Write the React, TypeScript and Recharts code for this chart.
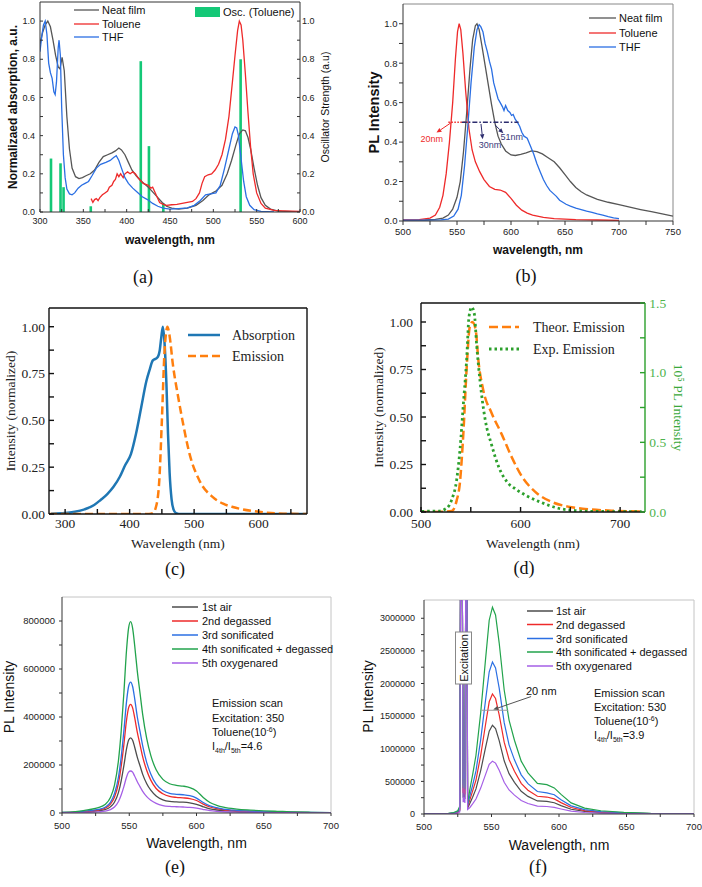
import React from "react";
import { ComposedChart, LineChart, Line, Bar, XAxis, YAxis, ReferenceLine } from "recharts";

type Pt = [number, number];
const rows = (p: Pt[]) => p.map(([x, y]) => ({ x, y }));

const SANS = '"Liberation Sans", Arial, sans-serif';
const SERIF = '"Liberation Serif", "Times New Roman", serif';

const GRAY = "#565656";
const RED = "#ee2a2a";
const BLUE = "#2b6fe3";
const GREEN = "#22a34c";
const PURPLE = "#a55fe6";
const OSC = "#14c877";
const MPL_BLUE = "#1f77b4";
const MPL_ORANGE = "#ff7f0e";
const MPL_GREEN = "#2ca02c";

// ---------- (a) absorption ----------
const neatFilmA: Pt[] = [
  [300, 0.88], [303, 0.94], [306, 0.98], [309, 1.0], [312, 0.97], [315, 0.9], [318, 0.82], [321, 0.76], [323, 0.75],
  [325.5, 0.81], [328, 0.74], [331, 0.5], [334, 0.33], [337, 0.23], [341, 0.185], [345, 0.175], [349, 0.18], [353, 0.19],
  [358, 0.2], [363, 0.22], [368, 0.26], [373, 0.29], [378, 0.3], [383, 0.31], [387, 0.32], [391, 0.335], [394, 0.325],
  [398, 0.3], [402, 0.26], [406, 0.22], [411, 0.19], [416, 0.165], [421, 0.145], [426, 0.125], [431, 0.1], [436, 0.075],
  [441, 0.05], [446, 0.03], [452, 0.02], [460, 0.015], [470, 0.02], [480, 0.035], [488, 0.06], [495, 0.09], [503, 0.11],
  [510, 0.14], [516, 0.2], [521, 0.27], [526, 0.35], [530, 0.41], [534, 0.43], [537, 0.425], [540, 0.39], [543, 0.33],
  [547, 0.23], [551, 0.14], [555, 0.075], [560, 0.035], [566, 0.015], [575, 0.005], [600, 0.0],
];
const tolueneA: Pt[] = [
  [359, 0.07], [361, 0.05], [363, 0.065], [365, 0.07], [367, 0.06], [369, 0.075], [372, 0.09], [375, 0.1], [378, 0.11],
  [380, 0.13], [383, 0.14], [385, 0.16], [387, 0.17], [389, 0.2], [391, 0.185], [393, 0.2], [396, 0.18], [398, 0.2],
  [401, 0.21], [404, 0.2], [407, 0.21], [410, 0.2], [413, 0.18], [416, 0.165], [419, 0.15], [422, 0.145], [425, 0.14],
  [428, 0.125], [430, 0.13], [432, 0.11], [435, 0.08], [438, 0.05], [442, 0.04], [446, 0.035], [452, 0.038], [458, 0.04],
  [464, 0.045], [470, 0.05], [476, 0.055], [480, 0.07], [484, 0.1], [487, 0.15], [490, 0.185], [494, 0.195], [498, 0.2],
  [502, 0.22], [506, 0.25], [510, 0.3], [514, 0.38], [518, 0.5], [522, 0.68], [525, 0.82], [528, 0.95], [530, 1.0],
  [532, 0.98], [534, 0.9], [537, 0.72], [540, 0.52], [543, 0.34], [546, 0.2], [550, 0.1], [555, 0.045], [560, 0.02],
  [570, 0.008], [580, 0.006], [600, 0.003],
];
const thfA: Pt[] = [
  [300, 0.84], [302, 0.92], [304, 0.98], [306, 1.0], [308, 0.93], [310, 0.78], [312, 0.73], [314, 0.7], [316, 0.63],
  [317.5, 0.615], [319, 0.68], [321, 0.86], [322, 0.9], [323.5, 0.82], [325, 0.55], [327, 0.3], [329, 0.18], [331, 0.12],
  [334, 0.095], [337, 0.09], [340, 0.1], [344, 0.125], [348, 0.14], [352, 0.15], [356, 0.16], [360, 0.19], [365, 0.23],
  [370, 0.25], [376, 0.26], [381, 0.27], [385, 0.285], [388, 0.295], [391, 0.27], [394, 0.23], [398, 0.18], [402, 0.15],
  [407, 0.125], [412, 0.105], [418, 0.08], [424, 0.065], [430, 0.045], [436, 0.03], [442, 0.02], [450, 0.015],
  [460, 0.018], [470, 0.022], [478, 0.035], [485, 0.06], [491, 0.09], [497, 0.095], [503, 0.1], [508, 0.14], [513, 0.23],
  [518, 0.33], [522, 0.41], [525, 0.445], [527, 0.44], [529, 0.4], [532, 0.28], [535, 0.16], [538, 0.08], [542, 0.035],
  [547, 0.012], [555, 0.003], [570, 0.0],
];
const oscWavelengths = [312.7, 323.7, 327.2, 358.6, 416.3, 425.7, 442.3, 531.5];
const oscStrengths = [0.28, 0.255, 0.13, 0.03, 0.79, 0.345, 0.045, 0.8];
const oscA = oscWavelengths.map((x, i) => ({ x, f: oscStrengths[i] }));

// ---------- (b) PL ----------
const neatFilmB: Pt[] = [
  [500, 0.004], [520, 0.005], [530, 0.008], [537, 0.015], [542, 0.03], [546, 0.06], [550, 0.12], [553, 0.2], [556, 0.35],
  [559, 0.55], [562, 0.77], [564.5, 0.92], [567, 0.99], [568.5, 1.0], [570.5, 0.97], [573, 0.89], [576, 0.79], [579, 0.69],
  [582, 0.59], [585, 0.5], [588, 0.43], [591, 0.39], [595, 0.355], [600, 0.335], [604, 0.332], [609, 0.338], [614, 0.345],
  [619, 0.355], [624, 0.352], [629, 0.34], [634, 0.322], [640, 0.3], [645, 0.27], [650, 0.235], [655, 0.2], [660, 0.17],
  [665, 0.148], [670, 0.132], [680, 0.11], [690, 0.095], [700, 0.083], [710, 0.07], [720, 0.058], [730, 0.047],
  [740, 0.036], [750, 0.025],
];
const tolueneB: Pt[] = [
  [500, 0.005], [515, 0.007], [525, 0.015], [530, 0.03], [534, 0.07], [537, 0.13], [540, 0.24], [543, 0.4], [546, 0.6],
  [548.5, 0.82], [550.5, 0.96], [552, 1.0], [553.5, 0.97], [555.5, 0.85], [558, 0.66], [561, 0.47], [564, 0.36],
  [567, 0.3], [571, 0.25], [575, 0.21], [580, 0.175], [585, 0.16], [590, 0.157], [595, 0.145], [600, 0.115], [605, 0.08],
  [610, 0.055], [615, 0.04], [620, 0.03], [630, 0.018], [640, 0.012], [660, 0.007], [680, 0.005], [700, 0.003],
];
const thfB: Pt[] = [
  [500, 0.004], [520, 0.004], [535, 0.006], [542, 0.01], [547, 0.025], [551, 0.06], [554, 0.13], [557, 0.28], [560, 0.48],
  [563, 0.7], [566, 0.88], [568.5, 0.97], [570.5, 0.995], [572, 0.985], [574, 0.96], [576, 0.9], [578, 0.86], [580, 0.81],
  [582, 0.77], [584, 0.7], [586, 0.66], [588, 0.62], [590, 0.6], [592, 0.58], [593.5, 0.56], [595, 0.585], [597, 0.56],
  [599, 0.55], [600.5, 0.535], [602, 0.54], [604, 0.515], [606, 0.5], [608, 0.48], [610, 0.45], [612, 0.43], [615, 0.42],
  [618, 0.38], [621, 0.34], [624, 0.29], [627, 0.25], [630, 0.21], [633, 0.18], [636, 0.155], [639, 0.14], [642, 0.125],
  [645, 0.105], [648, 0.095], [651, 0.085], [655, 0.075], [660, 0.065], [665, 0.058], [670, 0.05], [675, 0.044],
  [680, 0.036], [685, 0.03], [690, 0.022], [695, 0.016], [700, 0.012],
];

// ---------- (c) ----------
const absorptionC: Pt[] = [
  [278, 0.002], [300, 0.005], [315, 0.012], [330, 0.025], [345, 0.048], [355, 0.075], [365, 0.105], [375, 0.145],
  [385, 0.2], [393, 0.26], [402, 0.32], [410, 0.43], [418, 0.57], [426, 0.71], [431, 0.77], [436, 0.82], [441, 0.83],
  [444, 0.84], [446.5, 0.87], [449, 0.94], [451.5, 1.0], [454, 0.92], [457, 0.7], [459.5, 0.43], [462, 0.22], [465, 0.08],
  [468, 0.025], [472, 0.005], [480, 0.0], [675, 0.0],
];
const emissionC: Pt[] = [
  [275, 0.0], [430, 0.0], [436, 0.005], [441, 0.04], [446, 0.18], [450, 0.5], [454, 0.86], [457, 0.98], [458.5, 1.0],
  [462, 0.95], [467, 0.8], [475, 0.63], [483, 0.48], [493, 0.32], [508, 0.18], [529, 0.09], [545, 0.055], [560, 0.037],
  [575, 0.025], [591, 0.016], [610, 0.008], [638, 0.002], [675, 0.0],
];

// ---------- (d) ----------
const theorD: Pt[] = [
  [500, 0.0], [520, 0.001], [530.8, 0.005], [535.8, 0.06], [539, 0.15], [542.5, 0.41], [545.9, 0.76], [549, 0.975],
  [551.5, 1.0], [554.9, 0.96], [557.6, 0.8], [562.6, 0.64], [571, 0.52], [581, 0.41], [591, 0.29], [601, 0.19],
  [614.5, 0.107], [631, 0.054], [648, 0.028], [664.7, 0.016], [691.5, 0.007], [722, 0.003],
];
const expD: Pt[] = [
  [500.7, 0.005], [517.4, 0.007], [525.8, 0.027], [530.8, 0.087], [535.8, 0.23], [539.2, 0.45], [542.5, 0.77],
  [545.9, 1.1], [548.2, 1.4], [550.9, 1.47], [553.6, 1.42], [555.9, 1.2], [559.3, 0.94], [564.3, 0.67], [571, 0.48],
  [577.7, 0.33], [586, 0.22], [596, 0.16], [607.8, 0.11], [621, 0.068], [638, 0.027], [654.7, 0.01], [671.4, 0.005],
  [721.6, 0.002],
];

// ---------- (e) excitation 350 ----------
const airE: Pt[] = [
  [500, 1200], [510, 2400], [520, 5500], [527, 8600], [532, 13800], [536, 25500], [539, 45000], [542, 86000],
  [544, 134000], [546, 197000], [548, 268000], [549.5, 303000], [551, 313000], [552.5, 303000], [554, 275000],
  [556, 232000], [558, 197000], [560, 161000], [563, 122000], [566, 95000], [570, 71000], [575, 55000], [580, 48000],
  [585, 46000], [590, 45000], [595, 42000], [600, 36000], [605, 26000], [610, 17500], [615, 12500], [620, 9500],
  [630, 6300], [640, 4700], [650, 3500], [660, 2700], [670, 2000], [685, 1200], [700, 600],
];
const degassedE: Pt[] = [
  [500, 1700], [510, 3400], [520, 8000], [527, 12500], [532, 20000], [536, 37000], [539, 66000], [542, 125000],
  [544, 194000], [546, 285000], [548, 388000], [549.5, 438000], [551, 453000], [552.5, 438000], [554, 398000],
  [556, 336000], [558, 285000], [560, 234000], [563, 177000], [566, 137000], [570, 102000], [575, 80000], [580, 69000],
  [585, 65000], [590, 63000], [595, 60000], [600, 52000], [605, 37000], [610, 25000], [615, 18000], [620, 13500],
  [630, 9000], [640, 6800], [650, 5100], [660, 4000], [670, 2900], [685, 1700], [700, 900],
];
const sonicE: Pt[] = [
  [500, 2000], [510, 4000], [520, 9500], [527, 15000], [532, 24000], [536, 44000], [539, 80000], [542, 150000],
  [544, 232000], [546, 342000], [548, 465000], [549.5, 527000], [551, 545000], [552.5, 527000], [554, 478000],
  [556, 400000], [558, 340000], [560, 280000], [563, 210000], [566, 163000], [570, 120000], [575, 94000], [580, 82000],
  [585, 78000], [590, 76000], [595, 72000], [600, 62000], [605, 44000], [610, 30000], [615, 22000], [620, 16500],
  [630, 11000], [640, 8000], [650, 6000], [660, 4500], [670, 3500], [685, 2000], [700, 1000],
];
const sonicDegE: Pt[] = [
  [500, 3000], [510, 6000], [520, 14000], [527, 22000], [532, 35000], [536, 65000], [539, 115000], [542, 220000],
  [544, 340000], [546, 500000], [548, 680000], [549.5, 770000], [551, 797000], [552.5, 770000], [554, 700000],
  [556, 590000], [558, 500000], [560, 410000], [563, 310000], [566, 240000], [570, 180000], [575, 140000],
  [580, 122000], [585, 115000], [590, 112000], [595, 106000], [600, 92000], [605, 65000], [610, 44000], [615, 32000],
  [620, 24000], [630, 16000], [640, 12000], [650, 9000], [660, 7000], [670, 5000], [685, 3000], [700, 1500],
];
const oxyE: Pt[] = [
  [500, 700], [510, 1300], [520, 3000], [527, 4800], [532, 7700], [536, 14300], [539, 25000], [542, 48000],
  [544, 75000], [546, 110000], [548, 150000], [549.5, 170000], [551, 175000], [552.5, 170000], [554, 154000],
  [556, 130000], [558, 110000], [560, 90000], [563, 68000], [566, 53000], [570, 40000], [575, 31000], [580, 27500],
  [585, 26000], [590, 25000], [595, 23500], [600, 20000], [605, 14500], [610, 9700], [615, 7000], [620, 5300],
  [630, 3500], [640, 2600], [650, 2000], [660, 1500], [670, 1100], [685, 700], [700, 350],
];

// ---------- (f) excitation 530 ----------
const airF: Pt[] = [
  [500, 0], [510, 1300], [518, 4300], [522, 9400], [525, 21000], [526.5, 52000], [527.2, 4500000], [528.2, 4500000],
  [529, 250000], [529.6, 350000], [530.3, 230000], [531.1, 4500000], [531.7, 4500000], [532.3, 90000], [534, 165000],
  [536, 258000], [538.5, 385000], [542, 665000], [545.5, 1010000], [548.3, 1270000], [550.7, 1360000], [553, 1310000],
  [555.7, 1125000], [559.4, 815000], [563, 618000], [567, 485000], [572, 348000], [577, 270000], [584, 200000],
  [591, 193000], [596.5, 172000], [601.5, 129000], [609, 73000], [619, 39000], [631, 21500], [648, 11200],
  [668, 4300], [700, 900],
];
const degassedF: Pt[] = [
  [500, 0], [510, 1700], [518, 5800], [522, 12800], [525, 29000], [526.5, 70000], [527.2, 4500000], [528.2, 4500000],
  [529, 320000], [529.6, 450000], [530.3, 300000], [531.1, 4500000], [531.7, 4500000], [532.3, 110000], [534, 220000],
  [536, 350000], [538.5, 520000], [542, 900000], [545.5, 1360000], [548.3, 1720000], [550.7, 1840000], [553, 1770000],
  [555.7, 1520000], [559.4, 1100000], [563, 835000], [567, 655000], [572, 470000], [577, 365000], [584, 272000],
  [591, 260000], [596.5, 232000], [601.5, 174000], [609, 99000], [619, 52000], [631, 29000], [648, 15000],
  [668, 5800], [700, 1200],
];
const sonicF: Pt[] = [
  [500, 0], [510, 2200], [518, 7400], [522, 16000], [525, 37000], [526.5, 90000], [527.2, 4500000], [528.2, 4500000],
  [529, 450000], [529.6, 640000], [530.3, 420000], [531.1, 4500000], [531.7, 4500000], [532.3, 130000], [534, 280000],
  [536, 440000], [538.5, 660000], [542, 1140000], [545.5, 1730000], [548.3, 2180000], [550.7, 2330000], [553, 2240000],
  [555.7, 1930000], [559.4, 1400000], [563, 1060000], [567, 830000], [572, 600000], [577, 465000], [584, 345000],
  [591, 325000], [596.5, 295000], [601.5, 220000], [609, 125000], [619, 66000], [631, 37000], [648, 19000],
  [668, 7400], [700, 1500],
];
const sonicDegF: Pt[] = [
  [500, 0], [510, 3000], [518, 10000], [522, 22000], [525, 50000], [526.5, 120000], [527.2, 4500000], [528.2, 4500000],
  [529, 400000], [529.6, 540000], [530.3, 380000], [531.1, 4500000], [531.7, 4500000], [532.3, 160000], [534, 380000],
  [536, 600000], [538.5, 900000], [542, 1550000], [545.5, 2350000], [548.3, 2970000], [550.7, 3170000], [553, 3050000],
  [555.7, 2620000], [559.4, 1900000], [563, 1440000], [567, 1130000], [572, 810000], [577, 630000], [584, 470000],
  [591, 450000], [596.5, 400000], [601.5, 300000], [609, 170000], [619, 90000], [631, 50000], [648, 26000],
  [668, 10000], [700, 2000],
];
const oxyF: Pt[] = [
  [500, 0], [510, 800], [518, 2600], [522, 5600], [525, 12800], [526.5, 31000], [527.2, 4500000], [528.2, 4500000],
  [529, 180000], [529.6, 250000], [530.3, 170000], [531.1, 4500000], [531.7, 4500000], [532.3, 70000], [534, 100000],
  [536, 154000], [538.5, 230000], [542, 397000], [545.5, 600000], [548.3, 760000], [550.7, 810000], [553, 780000],
  [555.7, 670000], [559.4, 486000], [563, 368000], [567, 289000], [572, 207000], [577, 161000], [584, 120000],
  [591, 115000], [596.5, 102000], [601.5, 77000], [609, 43000], [619, 23000], [631, 12800], [648, 6700], [668, 2600],
  [700, 500],
];

// ---------- ticks ----------
const xTicksA = [300, 325, 350, 375, 400, 425, 450, 475, 500, 525, 550, 575, 600];
const yTicksA = [0, 0.1, 0.2, 0.3, 0.4, 0.5, 0.6, 0.7, 0.8, 0.9, 1.0];
const xTicksB = [500, 525, 550, 575, 600, 625, 650, 675, 700, 725, 750];
const xTicksC = [300, 350, 400, 450, 500, 550, 600, 650];
const yTicksC = [0, 0.125, 0.25, 0.375, 0.5, 0.625, 0.75, 0.875, 1.0];
const xTicksD = [500, 550, 600, 650, 700];
const yTicksDRight = [0, 0.25, 0.5, 0.75, 1.0, 1.25, 1.5];
const xTicksEF = [500, 525, 550, 575, 600, 625, 650, 675, 700];
const yTicksE = [0, 100000, 200000, 300000, 400000, 500000, 600000, 700000, 800000];
const yTicksF = [0, 250000, 500000, 750000, 1000000, 1250000, 1500000, 1750000, 2000000, 2250000, 2500000, 2750000, 3000000];

const every = (step: number, digits = 0) => (v: number) => {
  const r = v / step;
  return Math.abs(r - Math.round(r)) < 1e-6 ? v.toFixed(digits) : "";
};

const ArrowShape = (props: any) => {
  const { x1, y1, x2, y2, stroke } = props;
  const a = Math.atan2(y2 - y1, x2 - x1);
  const L = 5;
  const W = 2.2;
  const bx = x2 - L * Math.cos(a);
  const by = y2 - L * Math.sin(a);
  const pts = `${x2},${y2} ${bx + W * Math.sin(a)},${by - W * Math.cos(a)} ${bx - W * Math.sin(a)},${by + W * Math.cos(a)}`;
  return (
    <g>
      <line x1={x1} y1={y1} x2={bx} y2={by} stroke={stroke} strokeWidth={1} />
      <polygon points={pts} fill={stroke} />
    </g>
  );
};

// thin stick for the oscillator strengths, centred on the slot Recharts gives the bar
const OscStick = (p: any) => {
  const { x, y, width, height } = p;
  if (![x, y, width, height].every((v) => typeof v === "number" && isFinite(v))) return <g />;
  return <rect x={x + width / 2 - 1.3} y={y} width={2.6} height={height} fill={OSC} />;
};

const curve = (name: string, data: Pt[], color: string, extra: any = {}) => (
  <Line
    key={name}
    name={name}
    data={rows(data)}
    dataKey="y"
    type="linear"
    stroke={color}
    strokeWidth={1.3}
    dot={false}
    isAnimationActive={false}
    {...extra}
  />
);

function PanelA() {
  return (
    <div style={{ position: "absolute", left: 0, top: 0, fontFamily: SANS }}>
      <ComposedChart width={340} height={250} data={oscA} margin={{ top: 2, right: 0, bottom: 0, left: 0 }}>
        <XAxis
          dataKey="x" type="number" domain={[300, 600]} allowDataOverflow ticks={xTicksA} interval={0}
          tickFormatter={every(50)} height={38} tickSize={-3} tickMargin={9} stroke="#333"
          tick={{ fontSize: 9, fill: "#222" }}
          label={{ value: "wavelength, nm", position: "insideBottom", offset: 6, style: { fontSize: 12, fontWeight: 700, fill: "#111" } }}
        />
        <YAxis
          yAxisId="l" type="number" domain={[0, 1.1]} allowDataOverflow ticks={yTicksA} interval={0}
          tickFormatter={every(0.2, 1)} width={40} tickSize={-3} tickMargin={8} stroke="#333"
          tick={{ fontSize: 9, fill: "#222" }}
          label={{ value: "Normalizaed absorption, a.u.", angle: -90, position: "insideLeft", dx: 8, style: { textAnchor: "middle", fontSize: 12, fontWeight: 700, fill: "#111" } }}
        />
        <YAxis
          yAxisId="r" orientation="right" type="number" domain={[0, 1.1]} allowDataOverflow ticks={yTicksA} interval={0}
          tickFormatter={every(0.2, 1)} width={40} tickSize={-3} tickMargin={5} stroke="#333"
          tick={{ fontSize: 9, fill: "#222" }}
          label={{ value: "Oscillator Strength (a.u)", angle: -90, position: "insideRight", dx: -10, style: { textAnchor: "middle", fontSize: 10.5, fill: "#111" } }}
        />
        <ReferenceLine yAxisId="l" y={1.1} stroke="#333" />
        <Bar yAxisId="r" dataKey="f" name="Osc. (Toluene)" fill={OSC} barSize={3} shape={OscStick} isAnimationActive={false} />
        {curve("Neat film", neatFilmA, GRAY, { yAxisId: "l" })}
        {curve("Toluene", tolueneA, RED, { yAxisId: "l" })}
        {curve("THF", thfA, BLUE, { yAxisId: "l" })}
      </ComposedChart>
    </div>
  );
}

function PanelB() {
  return (
    <div style={{ position: "absolute", left: 351, top: 0, fontFamily: SANS }}>
      <LineChart width={351} height={262} margin={{ top: 4, right: 29, bottom: 0, left: 0 }}>
        <XAxis
          dataKey="x" type="number" domain={[500, 750]} allowDataOverflow ticks={xTicksB} interval={0}
          tickFormatter={every(50)} height={41} tickSize={4} tickMargin={3.7} stroke="#333"
          tick={{ fontSize: 9.5, fill: "#222" }}
          label={{ value: "wavelength, nm", position: "insideBottom", offset: 8, style: { fontSize: 12, fontWeight: 700, fill: "#111" } }}
        />
        <YAxis
          type="number" domain={[0, 1.1]} allowDataOverflow ticks={yTicksA} interval={0}
          tickFormatter={every(0.2, 1)} width={52} tickSize={4} tickMargin={1.5} stroke="#333"
          tick={{ fontSize: 9.5, fill: "#222" }}
          label={{ value: "PL Intensity", angle: -90, position: "insideLeft", dx: 18, style: { textAnchor: "middle", fontSize: 14.5, fontWeight: 700, fill: "#111" } }}
        />
        <ReferenceLine x={750} stroke="#888" />
        <ReferenceLine y={1.1} stroke="#888" />
        {curve("Neat film", neatFilmB, GRAY)}
        {curve("Toluene", tolueneB, RED)}
        {curve("THF", thfB, BLUE)}
        <ReferenceLine segment={[{ x: 542, y: 0.5 }, { x: 562, y: 0.5 }]} stroke={RED} strokeWidth={1.5} strokeDasharray="1.5 1.5" />
        <ReferenceLine segment={[{ x: 554.5, y: 0.5 }, { x: 607, y: 0.5 }]} stroke="#2c2c6e" strokeWidth={1.5} strokeDasharray="5 2 1.5 2" />
        <ReferenceLine segment={[{ x: 545, y: 0.5 }, { x: 531, y: 0.448 }]} stroke={RED} shape={ArrowShape} />
        <ReferenceLine segment={[{ x: 572.2, y: 0.492 }, { x: 573.8, y: 0.415 }]} stroke="#2c2c6e" shape={ArrowShape} />
        <ReferenceLine segment={[{ x: 585.2, y: 0.487 }, { x: 592.9, y: 0.445 }]} stroke="#2c2c6e" shape={ArrowShape} />
      </LineChart>
    </div>
  );
}

const frameC = { stroke: "#111", strokeWidth: 1.4 };

function PanelC() {
  return (
    <div style={{ position: "absolute", left: 0, top: 300, fontFamily: SERIF }}>
      <LineChart width={351} height={280} margin={{ top: 7, right: 43, bottom: 0, left: 0 }}>
        <XAxis
          dataKey="x" type="number" domain={[275, 675]} allowDataOverflow ticks={xTicksC} interval={0}
          tickFormatter={every(100)} height={66} tickSize={-5} tickMargin={9.4}
          axisLine={frameC} tickLine={frameC} tick={{ fontSize: 13.5, fill: "#222" }}
          label={{ value: "Wavelength (nm)", position: "insideBottom", offset: 32, style: { fontSize: 13.5, fill: "#222" } }}
        />
        <XAxis xAxisId="top" orientation="top" dataKey="x" type="number" domain={[275, 675]} allowDataOverflow ticks={xTicksC} interval={0}
          height={1} tickSize={-5} tick={false} axisLine={frameC} tickLine={frameC} />
        <YAxis
          type="number" domain={[0, 1.1]} allowDataOverflow ticks={yTicksC} interval={0}
          tickFormatter={every(0.25, 2)} width={49} tickSize={-5} tickMargin={9}
          axisLine={frameC} tickLine={frameC} tick={{ fontSize: 13.5, fill: "#222" }}
          label={{ value: "Intensity (normalized)", angle: -90, position: "insideLeft", dx: 5, style: { textAnchor: "middle", fontSize: 13.5, fill: "#222" } }}
        />
        <YAxis yAxisId="r" orientation="right" type="number" domain={[0, 1.1]} allowDataOverflow ticks={yTicksC} interval={0}
          width={1} tickSize={-5} tick={false} axisLine={frameC} tickLine={frameC} />
        {curve("Absorption", absorptionC, MPL_BLUE, { strokeWidth: 2.5, type: "monotone" })}
        {curve("Emission", emissionC, MPL_ORANGE, { strokeWidth: 2.5, strokeDasharray: "8 4", type: "monotone" })}
      </LineChart>
    </div>
  );
}

function PanelD() {
  const greenFrame = { stroke: MPL_GREEN, strokeWidth: 1.4 };
  return (
    <div style={{ position: "absolute", left: 351, top: 288, fontFamily: SERIF }}>
      <LineChart width={351} height={292} margin={{ top: 14, right: 0, bottom: 0, left: 0 }}>
        <XAxis
          dataKey="x" type="number" domain={[500, 725]} allowDataOverflow ticks={xTicksD} interval={0}
          tickFormatter={every(100)} height={68} tickSize={-5} tickMargin={11}
          axisLine={frameC} tickLine={frameC} tick={{ fontSize: 13.5, fill: "#222" }}
          label={{ value: "Wavelength (nm)", position: "insideBottom", offset: 32, style: { fontSize: 13.5, fill: "#222" } }}
        />
        <XAxis xAxisId="top" orientation="top" dataKey="x" type="number" domain={[500, 725]} allowDataOverflow ticks={xTicksD} interval={0}
          height={1} tickSize={-5} tick={false} axisLine={frameC} tickLine={frameC} />
        <YAxis
          type="number" domain={[0, 1.1]} allowDataOverflow ticks={yTicksC} interval={0}
          tickFormatter={every(0.25, 2)} width={70} tickSize={-5} tickMargin={13}
          axisLine={frameC} tickLine={frameC} tick={{ fontSize: 13.5, fill: "#222" }}
          label={{ value: "Intensity (normalized)", angle: -90, position: "insideLeft", dx: 22, style: { textAnchor: "middle", fontSize: 13.5, fill: "#222" } }}
        />
        <YAxis
          yAxisId="r" orientation="right" type="number" domain={[0, 1.5]} allowDataOverflow ticks={yTicksDRight} interval={0}
          tickFormatter={every(0.5, 1)} width={57} tickSize={-5} tickMargin={9.3}
          axisLine={greenFrame} tickLine={greenFrame} tick={{ fontSize: 13.5, fill: "#4db34d" }}
          label={{ value: "10⁵ PL Intensity", angle: 90, position: "insideRight", dx: -18, style: { textAnchor: "middle", fontSize: 13.5, fill: "#3aa83a" } }}
        />
        {curve("Theor. Emission", theorD, MPL_ORANGE, { strokeWidth: 2.5, strokeDasharray: "9 4", type: "monotone" })}
        {curve("Exp. Emission", expD, MPL_GREEN, { yAxisId: "r", strokeWidth: 2.8, strokeDasharray: "2.5 3", type: "monotone" })}
      </LineChart>
    </div>
  );
}

const eSeries = ["1st air", "2nd degassed", "3rd sonificated", "4th sonificated + degassed", "5th oxygenared"];
const eColors = ["#4d4d4d", RED, BLUE, GREEN, PURPLE];

function PanelE() {
  const data = [airE, degassedE, sonicE, sonicDegE, oxyE];
  return (
    <div style={{ position: "absolute", left: 0, top: 580, fontFamily: SANS }}>
      <LineChart width={351} height={307} margin={{ top: 17, right: 20, bottom: 0, left: 0 }}>
        <XAxis
          dataKey="x" type="number" domain={[500, 700]} allowDataOverflow ticks={xTicksEF} interval={0}
          tickFormatter={every(50)} height={74} tickSize={3} tickMargin={6.7} stroke="#333"
          tick={{ fontSize: 9.5, fill: "#222" }}
          label={{ value: "Wavelength, nm", position: "insideBottom", offset: 38.7, style: { fontSize: 14, fill: "#111" } }}
        />
        <YAxis
          type="number" domain={[0, 900000]} allowDataOverflow ticks={yTicksE} interval={0}
          tickFormatter={every(200000)} width={62} tickSize={3} tickMargin={4} stroke="#333"
          tick={{ fontSize: 9.5, fill: "#222" }}
          label={{ value: "PL Intensity", angle: -90, position: "insideLeft", dx: 4, dy: -8, style: { textAnchor: "middle", fontSize: 14, fill: "#111" } }}
        />
        <ReferenceLine x={700} stroke="#c4c4c4" />
        <ReferenceLine y={900000} stroke="#c4c4c4" />
        {data.map((d, i) => curve(eSeries[i], d, eColors[i], { type: "monotone" }))}
      </LineChart>
    </div>
  );
}

function PanelF() {
  const data = [airF, degassedF, sonicF, sonicDegF, oxyF];
  return (
    <div style={{ position: "absolute", left: 351, top: 580, fontFamily: SANS }}>
      <LineChart width={351} height={307} margin={{ top: 20, right: 8, bottom: 0, left: 0 }}>
        <XAxis
          dataKey="x" type="number" domain={[500, 700]} allowDataOverflow ticks={xTicksEF} interval={0}
          tickFormatter={every(50)} height={73} tickSize={3} tickMargin={6} stroke="#333"
          tick={{ fontSize: 9.5, fill: "#222" }}
          label={{ value: "Wavelength, nm", position: "insideBottom", offset: 37, style: { fontSize: 14, fill: "#111" } }}
        />
        <YAxis
          type="number" domain={[0, 3280000]} allowDataOverflow ticks={yTicksF} interval={0}
          tickFormatter={every(500000)} width={73} tickSize={3} tickMargin={6} stroke="#333"
          tick={{ fontSize: 9, fill: "#222" }}
          label={{ value: "PL Intensity", angle: -90, position: "insideLeft", dx: 11.7, dy: -10.5, style: { textAnchor: "middle", fontSize: 14, fill: "#111" } }}
        />
        <ReferenceLine x={700} stroke="#c4c4c4" />
        <ReferenceLine y={3280000} stroke="#c4c4c4" />
        {data.map((d, i) => curve(eSeries[i], d, eColors[i], { strokeWidth: 1.2 }))}
        <ReferenceLine segment={[{ x: 542.7, y: 1590000 }, { x: 562.4, y: 1590000 }]} stroke="#9a9a9a" />
        <ReferenceLine segment={[{ x: 579.3, y: 1800000 }, { x: 551.3, y: 1600000 }]} stroke="#555" shape={ArrowShape} />
      </LineChart>
    </div>
  );
}

function Overlay() {
  const sans = { fontFamily: SANS };
  const legendA = [["Neat film", GRAY, 10], ["Toluene", RED, 24], ["THF", BLUE, 37]] as const;
  const legendB = [["Neat film", GRAY, 18], ["Toluene", RED, 33], ["THF", BLUE, 47]] as const;
  const rowsE = [607, 621, 635, 649, 663];
  const rowsF = [611, 624.5, 638.5, 652, 666];
  return (
    <svg width={702} height={887} style={{ position: "absolute", left: 0, top: 0, pointerEvents: "none" }}>
      <g style={sans} fontSize={11} fill="#111">
        {legendA.map(([t, c, y]) => (
          <g key={t}>
            <line x1={74} x2={99} y1={y} y2={y} stroke={c} strokeWidth={1.3} />
            <text x={102} y={y + 4}>{t}</text>
          </g>
        ))}
        <rect x={195} y={7} width={25} height={10} fill={OSC} />
        <text x={223} y={16}>Osc. (Toluene)</text>
        {legendB.map(([t, c, y]) => (
          <g key={"b" + t}>
            <line x1={589} x2={616} y1={y} y2={y} stroke={c} strokeWidth={1.3} />
            <text x={619} y={y + 4}>{t}</text>
          </g>
        ))}
        <text x={431.7} y={141.5} fontSize={9} fill={RED} textAnchor="middle">20nm</text>
        <text x={490} y={147.5} fontSize={9} fill="#3a3a7a" textAnchor="middle">30nm</text>
        <text x={511.7} y={139.5} fontSize={9} fill="#3a3a7a" textAnchor="middle">51nm</text>
        {eSeries.map((t, i) => (
          <g key={"e" + t}>
            <line x1={172} x2={198} y1={rowsE[i]} y2={rowsE[i]} stroke={eColors[i]} strokeWidth={1.5} />
            <text x={202} y={rowsE[i] + 4}>{t}</text>
          </g>
        ))}
        <text x={212} y={707}>Emission scan</text>
        <text x={212} y={721.5}>Excitation: 350</text>
        <text x={212} y={736}>Toluene(10<tspan fontSize={7} dy={-4}>-6</tspan><tspan dy={4}>)</tspan></text>
        <text x={212} y={750}>I<tspan fontSize={7} dy={3}>4th</tspan><tspan dy={-3}>/I</tspan><tspan fontSize={7} dy={3}>5th</tspan><tspan dy={-3}>=4.6</tspan></text>
        {eSeries.map((t, i) => (
          <g key={"f" + t}>
            <line x1={527} x2={553} y1={rowsF[i]} y2={rowsF[i]} stroke={eColors[i]} strokeWidth={1.5} />
            <text x={556} y={rowsF[i] + 4}>{t}</text>
          </g>
        ))}
        <text x={594} y={697}>Emission scan</text>
        <text x={594} y={711}>Excitation: 530</text>
        <text x={594} y={725}>Toluene(10<tspan fontSize={7} dy={-4}>-6</tspan><tspan dy={4}>)</tspan></text>
        <text x={594} y={739}>I<tspan fontSize={7} dy={3}>4th</tspan><tspan dy={-3}>/I</tspan><tspan fontSize={7} dy={3}>5th</tspan><tspan dy={-3}>=3.9</tspan></text>
        <text x={526} y={695}>20 nm</text>
        <rect x={455.5} y={632} width={16} height={52} fill="#fff" stroke="#888" strokeWidth={1} />
        <text x={463.5} y={658} transform="rotate(-90 463.5 658)" textAnchor="middle" dy={4}>Excitation</text>
      </g>
      <g style={{ fontFamily: SERIF }} fontSize={14} fill="#222">
        <line x1={188} x2={220} y1={335} y2={335} stroke={MPL_BLUE} strokeWidth={2.5} />
        <text x={232} y={340}>Absorption</text>
        <line x1={188} x2={220} y1={356} y2={356} stroke={MPL_ORANGE} strokeWidth={2.5} strokeDasharray="8 4" />
        <text x={232} y={361}>Emission</text>
        <line x1={489} x2={519} y1={327} y2={327} stroke={MPL_ORANGE} strokeWidth={2.5} strokeDasharray="9 4" />
        <text x={533} y={332}>Theor. Emission</text>
        <line x1={489} x2={519} y1={349} y2={349} stroke={MPL_GREEN} strokeWidth={2.8} strokeDasharray="2.5 3" />
        <text x={533} y={354}>Exp. Emission</text>
      </g>
      <g style={{ fontFamily: SERIF }} fontSize={18} fill="#111" textAnchor="middle">
        <text x={143} y={283}>(a)</text>
        <text x={526} y={282}>(b)</text>
        <text x={175} y={575}>(c)</text>
        <text x={524} y={574}>(d)</text>
        <text x={175} y={873}>(e)</text>
        <text x={538} y={873}>(f)</text>
      </g>
    </svg>
  );
}

export default function App() {
  return (
    <div style={{ position: "absolute", left: 0, top: 0, width: 702, height: 887, background: "#fff" }}>
      <PanelA />
      <PanelB />
      <PanelC />
      <PanelD />
      <PanelE />
      <PanelF />
      <Overlay />
    </div>
  );
}
